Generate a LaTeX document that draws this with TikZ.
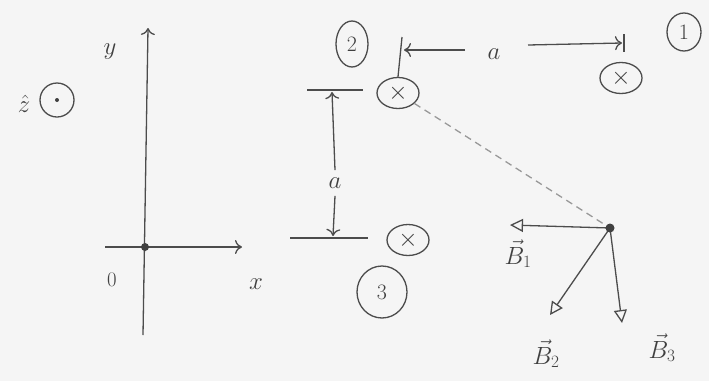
\documentclass[tikz,border=0pt]{standalone}
\usetikzlibrary{arrows.meta,shapes.geometric}
\newcommand{\fs}[1]{\fontsize{#1}{#1}\selectfont}
\begin{document}
\begin{tikzpicture}[x=1pt,y=-1pt,
  pen/.style={draw=black!70, line width=1.3pt},
  wire/.style={draw=black!70, ellipse, line width=1.3pt, minimum width=42pt, minimum height=31pt, inner sep=0pt, font=\fs{24}, text=black!75},
  lbl/.style={draw=black!70, ellipse, line width=1.3pt, minimum width=34pt, minimum height=38pt, inner sep=0pt, font=\fs{22}, text=black!75},
  txt/.style={text=black!75},
  vhead/.style={-{To[length=7pt,width=14pt]}},
  bhead/.style={-{Triangle[open,length=13pt,width=13pt,line width=1.3pt]}}]
\fill[black!4] (0,0) rectangle (709,381);
\useasboundingbox (0,0) rectangle (709,381);
% coordinate axes
\coordinate (O) at (145,247);
\coordinate (ytop) at (148,28);
\coordinate (ybot) at (143,335);
\coordinate (xl) at (105,247);
\coordinate (xr) at (242,247);
\draw[pen, vhead] (ybot) -- (ytop);
\draw[pen, vhead] (xl) -- (xr);
\fill[black!75] (O) circle (4pt);
\node[txt, font=\fs{40}] (ylab) at (110,52) {$y$};
\node[txt, font=\fs{32}] (xlab) at (256,284) {$x$};
\node[txt, font=\fs{22}] (olab) at (112,280) {$0$};
\node[txt, font=\fs{28}] (zlab) at (24,104) {$\hat z$};
\node[draw=black!70, circle, line width=1.3pt, minimum size=34pt] (zc) at (57,100) {};
\fill[black!75] (zc.center) circle (2pt);
% wires
\node[wire] (w2) at (398,93) {$\times$};
\node[wire] (w1) at (621,78) {$\times$};
\node[wire] (w3) at (408,240) {$\times$};
\node[lbl, minimum width=32pt, minimum height=46pt] (l2) at (352,44) {2};
\node[lbl] (l1) at (684,32) {1};
\node[lbl, minimum width=50pt, minimum height=52pt] (l3) at (382,292) {3};
% horizontal distance a
\coordinate (t2a) at (402,37);
\draw[pen] (t2a) -- (w2.north);
\coordinate (ha1) at (465,50);
\coordinate (ha1e) at (404,50);
\draw[pen, vhead] (ha1) -- (ha1e);
\node[txt, font=\fs{30}] (ha) at (494,54) {$a$};
\coordinate (ha2) at (528,45);
\coordinate (ha2e) at (622,43);
\draw[pen, vhead] (ha2) -- (ha2e);
\coordinate (t1a) at (624,34);
\coordinate (t1b) at (624,52);
\draw[pen] (t1a) -- (t1b);
% vertical distance a
\coordinate (h2l) at (307,90);
\coordinate (h2r) at (363,90);
\draw[pen] (h2l) -- (h2r);
\coordinate (h3l) at (290,238);
\coordinate (h3r) at (368,238);
\draw[pen] (h3l) -- (h3r);
\node[txt, font=\fs{30}] (va) at (335,183) {$a$};
\coordinate (vu) at (332,92);
\coordinate (vd) at (333,236);
\draw[pen, vhead] (va.north) ++(0,-4) -- (vu);
\draw[pen, vhead] (va.south) ++(0,4) -- (vd);
% point P and fields
\coordinate (P) at (610,228);
\draw[draw=black!40, line width=1.3pt, dash pattern=on 7pt off 5pt] (w2) -- (P);
\coordinate (B1) at (510,225);
\coordinate (B2) at (550,315);
\coordinate (B3) at (622,323);
\draw[pen, bhead] (P) -- (B1);
\draw[pen, bhead] (P) -- (B2);
\draw[pen, bhead] (P) -- (B3);
\fill[black!75] (P) circle (4.5pt);
\node[txt, font=\fs{26}] (b1l) at (518,254) {$\vec B_1$};
\node[txt, font=\fs{26}] (b2l) at (546,354) {$\vec B_2$};
\node[txt, font=\fs{26}] (b3l) at (662,348) {$\vec B_3$};
\end{tikzpicture}
\end{document}
